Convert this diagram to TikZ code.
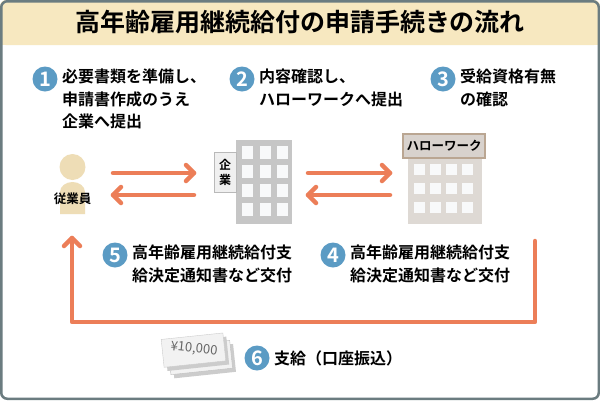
\documentclass[tikz,border=0pt]{standalone}
\usepackage{fontspec}
\setmainfont{Noto Sans CJK JP}[BoldFont={Noto Sans CJK JP Bold}]
\newfontfamily\jpb{Noto Sans CJK JP Bold}
\begin{document}
\begin{tikzpicture}[x=1pt,y=-1pt,
  num/.style={circle,fill=numblue,text=white,inner sep=0pt,minimum size=25pt,font=\jpb\fontsize{20}{20}\selectfont},
  lab/.style={anchor=north west,align=left,font=\jpb\fontsize{16}{22.5}\selectfont,inner sep=0pt},
  arr/.style={draw=arrc,line width=4.5pt,line cap=round},
  win/.style={fill=winc,draw=none}]
\definecolor{numblue}{HTML}{5B9BC4}
\definecolor{arrc}{HTML}{EC7E58}
\definecolor{winc}{HTML}{F8F9FA}
\definecolor{bandc}{HTML}{F7E8C0}
\definecolor{framec}{HTML}{6B7C80}
\definecolor{personc}{HTML}{EEDDB6}
\useasboundingbox (0,0) rectangle (600,400);
\fill[white,rounded corners=6pt] (0,0) rectangle (600,400);
\fill[bandc,rounded corners=6pt] (0,0) rectangle (600,45);
\fill[bandc] (0,25) rectangle (600,45);
\draw[framec,line width=2.5pt,rounded corners=6pt] (1.25,1.25) rectangle (598.75,398.75);
\node[font=\jpb\fontsize{25}{25}\selectfont] (title) at (300,22) {高年齢雇用継続給付の申請手続きの流れ};
% step labels
\node[num] (n1) at (45,79) {1};
\node[lab] (t1) at (62,69) {必要書類を準備し、\\申請書作成のうえ\\企業へ提出};
\node[num] (n2) at (242,79) {2};
\node[lab] (t2) at (259,69) {内容確認し、\\ハローワークへ提出};
\node[num] (n3) at (443,79) {3};
\node[lab] (t3) at (460,69) {受給資格有無\\の確認};
% person
\fill[personc] (60,192) arc(180:360:12.5 and 10) -- (85,214) -- (60,214) -- cycle;
\fill[personc] (72.5,167) circle (13);
\node[font=\jpb\fontsize{12.5}{12.5}\selectfont,inner sep=0pt] (emp) at (72.5,199) {従業員};
% company building
\fill[gray!45] (236,140) rectangle (292,224);
\foreach \i in {0,1,2} \foreach \j in {0,1,2,3}
  \fill[win] (242+\i*17.5,146+\j*19) rectangle (253+\i*17.5,159+\j*19);
\node[draw=gray!55,fill=gray!12,line width=1pt,minimum width=22pt,minimum height=40pt,inner sep=0pt,align=center,font=\jpb\fontsize{12}{15}\selectfont] (kigyo) at (225,172) {企\\業};
% hello work
\fill[brown!25!gray!30] (408,158) rectangle (482,224);
\foreach \i in {0,1,2,3} \foreach \j in {0,1,2}
  \fill[win] (414+\i*16,164+\j*19) rectangle (425+\i*16,175+\j*19);
\node[draw=brown!45!gray!70,fill=brown!25!gray!35,line width=1.5pt,minimum width=82pt,minimum height=24pt,inner sep=0pt,font=\jpb\fontsize{12.5}{12.5}\selectfont] (hw) at (444,146) {ハローワーク};
% arrows
\coordinate (a1s) at (113,173); \coordinate (a1e) at (194,173);
\coordinate (a2s) at (194,195); \coordinate (a2e) at (113,195);
\coordinate (a3s) at (308,173); \coordinate (a3e) at (390,173);
\coordinate (a4s) at (390,195); \coordinate (a4e) at (308,195);
\foreach \s/\e in {a1s/a1e,a2s/a2e,a3s/a3e,a4s/a4e}
  \draw[arr] (\s) -- (\e);
\draw[arr,line join=round] (186,165) -- (194,173) -- (186,181);
\draw[arr,line join=round] (121,187) -- (113,195) -- (121,203);
\draw[arr,line join=round] (382,165) -- (390,173) -- (382,181);
\draw[arr,line join=round] (316,187) -- (308,195) -- (316,203);
% loop arrow
\coordinate (ls) at (535,241);
\coordinate (le) at (72,238);
\draw[arr,line join=round] (ls) -- (535,322) -- (72,322) -- (le);
\draw[arr,line join=round] (64,246) -- (72,238) -- (80,246);
\node[num] (n5) at (115,255) {5};
\node[lab] (t5) at (132,245) {高年齢雇用継続給付支\\給決定通知書など交付};
\node[num] (n4) at (333,255) {4};
\node[lab] (t4) at (350,245) {高年齢雇用継続給付支\\給決定通知書など交付};
% money
\begin{scope}[rotate around={6:(195,355)}]
\fill[gray!40] (172,348) rectangle (234,376);
\fill[gray!10,draw=gray!50] (169,344) rectangle (231,372);
\fill[gray!40] (166,340) rectangle (228,368);
\fill[gray!10,draw=gray!40] (163,336) rectangle (225,364);
\end{scope}
\node[rotate=-6,text=gray!80!black,font=\fontsize{13}{13}\selectfont,inner sep=0pt] (yen) at (194,349) {¥10,000};
\node[num] (n6) at (257,358) {6};
\node[lab,anchor=west] (t6) at (274,358) {支給（口座振込）};
\end{tikzpicture}
\end{document}
